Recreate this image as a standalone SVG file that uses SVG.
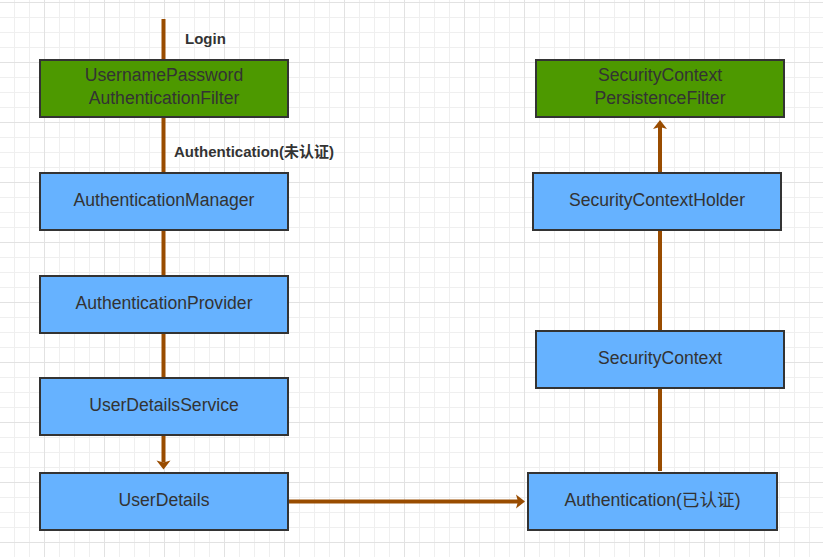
<svg xmlns="http://www.w3.org/2000/svg" width="823" height="557" viewBox="0 0 823 557">
<defs>
<style>
.box{stroke:#333333;stroke-width:2}
.green{fill:#4d9900}
.blue{fill:#66b2ff}
.t{font-family:"Liberation Sans","Noto Sans CJK SC",Arial,sans-serif;font-size:17.6px;fill:#333333;text-anchor:middle}
.lbl{font-family:"Liberation Sans","Noto Sans CJK SC",Arial,sans-serif;font-size:15px;font-weight:bold;fill:#333333}
.conn{stroke:#994c00;stroke-width:4;fill:none}
</style>
<pattern id="grid" patternUnits="userSpaceOnUse" x="44" y="2" width="60" height="60">
<rect x="0" y="0" width="60" height="60" fill="#ffffff"/>
<rect x="15" y="0" width="1" height="60" fill="#efefef"/>
<rect x="30" y="0" width="1" height="60" fill="#efefef"/>
<rect x="45" y="0" width="1" height="60" fill="#efefef"/>
<rect x="0" y="15" width="60" height="1" fill="#efefef"/>
<rect x="0" y="30" width="60" height="1" fill="#efefef"/>
<rect x="0" y="45" width="60" height="1" fill="#efefef"/>
<rect x="0" y="0" width="1" height="60" fill="#e2e2e2"/>
<rect x="0" y="0" width="60" height="1" fill="#e2e2e2"/>
</pattern>
<marker id="ah" markerUnits="userSpaceOnUse" markerWidth="12" markerHeight="16" viewBox="-3 -8 12 16" refX="0" refY="0" orient="auto" overflow="visible">
<path d="M-2,-7 L7,0 L-2,7 L0,0 Z" fill="#994c00"/>
</marker>
</defs>
<rect x="0" y="0" width="823" height="557" fill="url(#grid)"/>

<g id="connectors">
<line class="conn" x1="163.5" y1="19" x2="163.5" y2="462.5" marker-end="url(#ah)"/>
<line class="conn" x1="660" y1="471" x2="660" y2="127" marker-end="url(#ah)"/>
<line class="conn" x1="289" y1="501.5" x2="518" y2="501.5" marker-end="url(#ah)"/>
</g>

<g id="labels">
<text class="lbl" x="185" y="44">Login</text>
<text class="lbl" x="174" y="157">Authentication(未认证)</text>
</g>

<g id="node-upaf">
<rect class="box green" x="40" y="60" width="248" height="57"/>
<text class="t" x="164" y="81">UsernamePassword</text>
<text class="t" x="164" y="103.5">AuthenticationFilter</text>
</g>
<g id="node-authmanager">
<rect class="box blue" x="40" y="173" width="248" height="57"/>
<text class="t" x="164" y="205.7">AuthenticationManager</text>
</g>
<g id="node-authprovider">
<rect class="box blue" x="40" y="276" width="248" height="57"/>
<text class="t" x="164" y="308.7">AuthenticationProvider</text>
</g>
<g id="node-userdetailsservice">
<rect class="box blue" x="40" y="378" width="248" height="57"/>
<text class="t" x="164" y="410.7">UserDetailsService</text>
</g>
<g id="node-userdetails">
<rect class="box blue" x="40" y="473" width="248" height="57"/>
<text class="t" x="164" y="505.7">UserDetails</text>
</g>
<g id="node-scpf">
<rect class="box green" x="536" y="60" width="248" height="57"/>
<text class="t" x="660" y="81">SecurityContext</text>
<text class="t" x="660" y="103.5">PersistenceFilter</text>
</g>
<g id="node-sch">
<rect class="box blue" x="533" y="173" width="248" height="57"/>
<text class="t" x="657" y="205.7">SecurityContextHolder</text>
</g>
<g id="node-sc">
<rect class="box blue" x="536" y="331" width="248" height="57"/>
<text class="t" x="660" y="363.5">SecurityContext</text>
</g>
<g id="node-authenticated">
<rect class="box blue" x="528" y="473" width="249" height="57"/>
<text class="t" x="652.5" y="505.7">Authentication(已认证)</text>
</g>
</svg>
